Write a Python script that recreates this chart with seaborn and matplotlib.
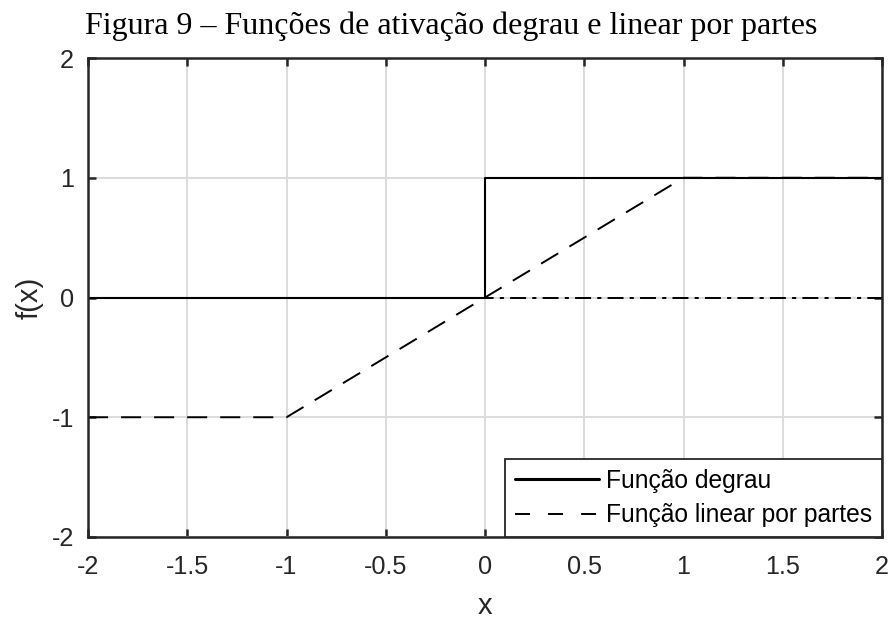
import numpy as np
import pandas as pd
import matplotlib
matplotlib.use("Agg")
import matplotlib.pyplot as plt
from matplotlib.ticker import FuncFormatter
from matplotlib.lines import Line2D
import seaborn as sns

# Step activation function
step_x = [-2, 0, 0, 2]
step_y = [0, 0, 1, 1]
# Piecewise linear activation function
lin_x = [-2, -1, 1, 2]
lin_y = [-1, -1, 1, 1]
# Horizontal reference line at f(x) = 0
ref_x = [-2, 2]
ref_y = [0, 0]

x_ticks = [-2, -1.5, -1, -0.5, 0, 0.5, 1, 1.5, 2]
y_ticks = [-2, -1, 0, 1, 2]

title_text = "Figura 9 – Funções de ativação degrau e linear por partes"
legend_labels = ["Função degrau", "Função linear por partes"]

sns.set_theme(style="whitegrid")
plt.rcParams["font.family"] = ["Liberation Sans", "DejaVu Sans"]
plt.rcParams["axes.unicode_minus"] = False

fig = plt.figure(figsize=(8.91, 6.21), dpi=100)
ax = fig.add_axes([88 / 891, 1 - 537 / 621, (882 - 88) / 891, (537 - 58) / 621])
ax.set_facecolor("white")

df_ref = pd.DataFrame({"x": ref_x, "y": ref_y})
df_step = pd.DataFrame({"x": step_x, "y": step_y})
df_lin = pd.DataFrame({"x": lin_x, "y": lin_y})

dash = (0, (10.3, 6.7))
dashdot = (0, (8.2, 3.2, 2.1, 3.2))
sns.lineplot(data=df_ref, x="x", y="y", ax=ax, sort=False, estimator=None,
             color="black", linewidth=1.4, linestyle=dashdot, zorder=3)
sns.lineplot(data=df_step, x="x", y="y", ax=ax, sort=False, estimator=None,
             color="black", linewidth=1.5, linestyle="-", zorder=4)
sns.lineplot(data=df_lin, x="x", y="y", ax=ax, sort=False, estimator=None,
             color="black", linewidth=1.4, linestyle=dash, zorder=5)

ax.set_xlim(-2, 2)
ax.set_ylim(-2, 2)
ax.set_xticks(x_ticks)
ax.set_yticks(y_ticks)
fmt = FuncFormatter(lambda v, p: f"{v:g}")
ax.xaxis.set_major_formatter(fmt)
ax.yaxis.set_major_formatter(fmt)

ax.grid(True, color="#dcdcdc", linewidth=1.4)
ax.set_axisbelow(True)
for s in ax.spines.values():
    s.set_visible(True)
    s.set_color("#262626")
    s.set_linewidth(1.8)
    s.set_zorder(6)

ax.tick_params(axis="both", which="major", direction="in", length=6, width=1.8,
               color="#262626", labelsize=18.2, labelcolor="#262626",
               top=True, right=True, bottom=True, left=True)
ax.tick_params(axis="x", pad=13)
ax.tick_params(axis="y", pad=10)

ax.set_xlabel("x", fontsize=21, color="#262626", labelpad=9)
ax.set_ylabel("f(x)", fontsize=21, color="#262626", labelpad=6)

handles = [
    Line2D([], [], color="black", linewidth=2.2, linestyle="-"),
    Line2D([], [], color="black", linewidth=1.4, linestyle=(0, (7.7, 9.3))),
]
leg = ax.legend(handles, legend_labels, loc="lower right", fontsize=17.7,
                frameon=True, fancybox=False, framealpha=1, edgecolor="#262626",
                borderaxespad=0, handlelength=3.4, handletextpad=0.3,
                borderpad=0.4, labelspacing=0.42)
leg.get_frame().set_linewidth(1.3)
leg.set_zorder(7)
for t in leg.get_texts():
    t.set_color("black")

fig.text(85 / 891, 1 - 34 / 621, title_text, family=["Liberation Serif", "DejaVu Serif"],
         fontsize=23, color="black", ha="left", va="baseline")

fig.savefig("out.png", dpi=100, facecolor="white")
